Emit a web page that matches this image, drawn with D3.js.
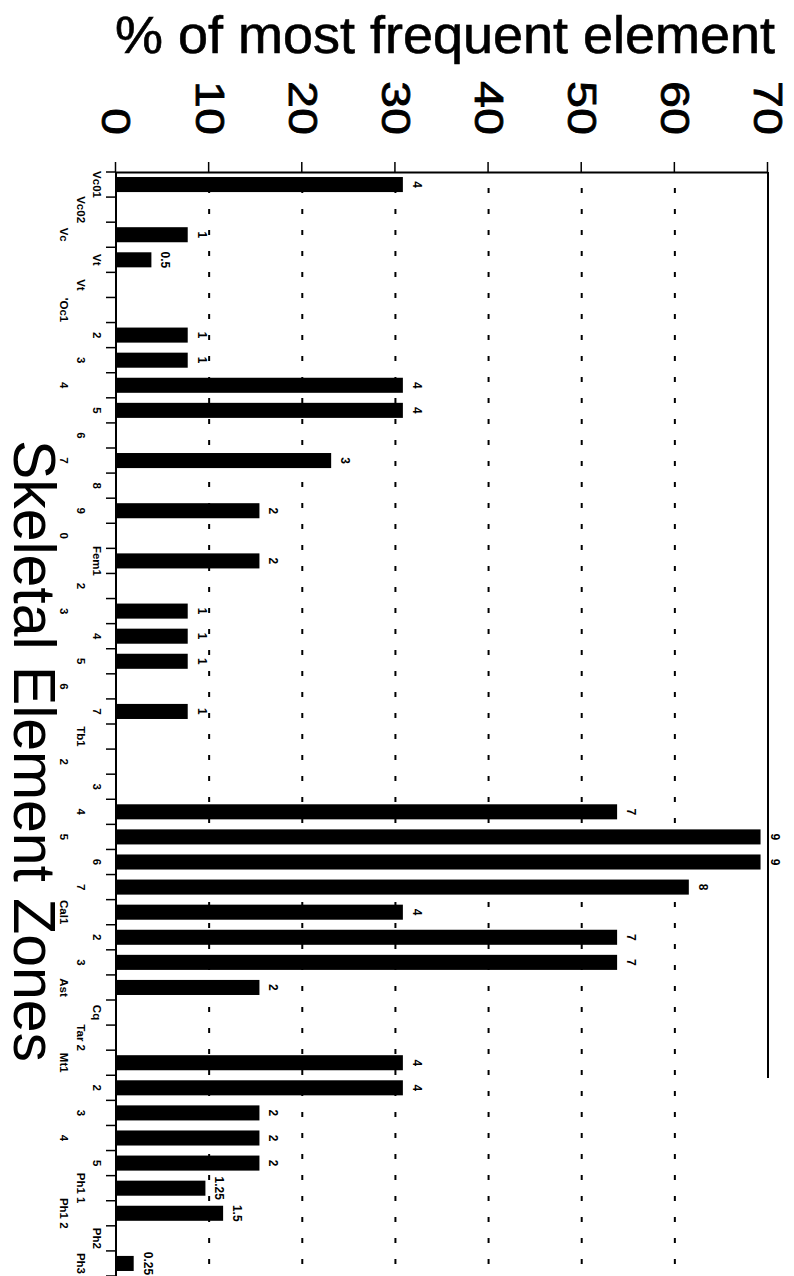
<!DOCTYPE html>
<html><head><meta charset="utf-8">
<script src="https://cdn.jsdelivr.net/npm/d3@7"></script>
<style>body{margin:0;background:#fff} svg{display:block}</style>
</head><body>
<svg id="chart" width="794" height="1276"></svg>
<script>
const categories = ["Vc01","Vc02","Vc","Vt","Vt","'Oc1","2","3","4","5","6","7","8","9","0","Fem1","2","3","4","5","6","7","Tb1","2","3","4","5","6","7","Cal1","2","3","Ast","Cq","Tar 2","Mt1","2","3","4","5","Ph1 1","Ph1 2","Ph2","Ph3"];
const percentValues = [30.8,null,7.7,3.8,null,null,7.7,7.7,30.8,30.8,null,23.1,null,15.4,null,15.4,null,7.7,7.7,7.7,null,7.7,null,null,null,53.8,69.2,69.2,61.5,30.8,53.8,53.8,15.4,null,null,30.8,30.8,15.4,15.4,15.4,9.6,11.5,null,1.9];
const countLabels = ["4","","1","0.5","","","1","1","4","4","","3","","2","","2","","1","1","1","","1","","","","7","9","9","8","4","7","7","2","","","4","4","2","2","2","1.25","1.5","","0.25"];
const valueTicks = [0,10,20,30,40,50,60,70];
const gridTicks = [10,20,30,40,50,60];
const yTitle = "% of most frequent element";
const xTitle = "Skeletal Element Zones";

const FONT = "'Liberation Sans', Arial, Helvetica, sans-serif";
const svg = d3.select("#chart");
svg.append("rect").attr("width",794).attr("height",1276).attr("fill","#fff");

// the chart is a normal column chart rotated 90deg clockwise
const g = svg.append("g").attr("transform","translate(794,0) rotate(90)");

const idx = d3.range(categories.length);
const x = d3.scaleBand().domain(idx).range([172, 1276]).paddingInner(0.4).paddingOuter(0.2);
const y = d3.scaleLinear().domain([0,70]).range([678, 26]);
const step = x.step();
const x0 = 172;

// gridlines
g.selectAll("line.grid").data(gridTicks).join("line")
  .attr("class","grid")
  .attr("x1", x0).attr("x2", 1276)
  .attr("y1", d => y(d)).attr("y2", d => y(d))
  .attr("stroke","#000").attr("stroke-width",2)
  .attr("stroke-dasharray","5,16").attr("stroke-dashoffset",-16);
// right frame line (at 70)
g.append("line").attr("x1", x0).attr("x2", 1078)
  .attr("y1", y(70)).attr("y2", y(70))
  .attr("stroke","#000").attr("stroke-width",2);

// bars
const barData = idx.filter(i => percentValues[i] != null);
g.selectAll("rect.bar").data(barData).join("rect")
  .attr("class","bar")
  .attr("x", i => x(i)).attr("width", x.bandwidth())
  .attr("y", i => y(percentValues[i]))
  .attr("height", i => y(0) - y(percentValues[i]))
  .attr("fill","#000");

// value labels
g.selectAll("text.val").data(barData).join("text")
  .attr("class","val")
  .attr("x", i => x(i) + x.bandwidth()/2)
  .attr("y", i => y(percentValues[i]) - 10)
  .attr("text-anchor","middle")
  .attr("font-family", FONT).attr("font-weight","bold").attr("font-size",12)
  .text(i => countLabels[i]);

// value axis (appears at top)
const yAxis = d3.axisLeft(y).tickValues(valueTicks).tickSize(10).tickSizeOuter(0).tickPadding(27);
const ya = g.append("g").attr("transform",`translate(${x0},0)`).call(yAxis);
ya.select(".domain").attr("stroke","#000").attr("stroke-width",2);
ya.selectAll(".tick line").attr("stroke","#000").attr("stroke-width",1.5);
ya.selectAll(".tick text")
  .attr("font-family", FONT).attr("font-size",41).attr("fill","#000")
  .attr("stroke","#000").attr("stroke-width",0.8)
  .attr("textLength", d => String(d).length*27).attr("lengthAdjust","spacingAndGlyphs");

// category axis (appears at left)
g.append("line").attr("x1", x0).attr("x2", 1276).attr("y1", y(0)).attr("y2", y(0))
  .attr("stroke","#000").attr("stroke-width",2);
g.selectAll("line.ctick").data(d3.range(categories.length+1)).join("line")
  .attr("class","ctick")
  .attr("x1", k => x0 + k*step).attr("x2", k => x0 + k*step)
  .attr("y1", y(0)).attr("y2", y(0)+10)
  .attr("stroke","#000").attr("stroke-width",1.5);
const colX = [97, 81, 64];
g.selectAll("text.cat").data(idx).join("text")
  .attr("class","cat")
  .attr("x", i => x(i) + x.bandwidth()/2)
  .attr("y", i => 798 - colX[i % 3])
  .attr("text-anchor","middle")
  .attr("font-family", FONT).attr("font-weight","bold").attr("font-size",11.5)
  .text(i => categories[i]);

// titles
svg.append("text").attr("x",115).attr("y",53)
  .attr("font-family", FONT).attr("font-size",51)
  .attr("stroke","#000").attr("stroke-width",0.6)
  .attr("textLength",660).attr("lengthAdjust","spacingAndGlyphs")
  .text(yTitle);
svg.append("text").attr("transform","translate(14,440) rotate(90)")
  .attr("font-family", FONT).attr("font-size",60)
  .attr("textLength",622).attr("lengthAdjust","spacingAndGlyphs")
  .text(xTitle);
</script>
</body></html>
